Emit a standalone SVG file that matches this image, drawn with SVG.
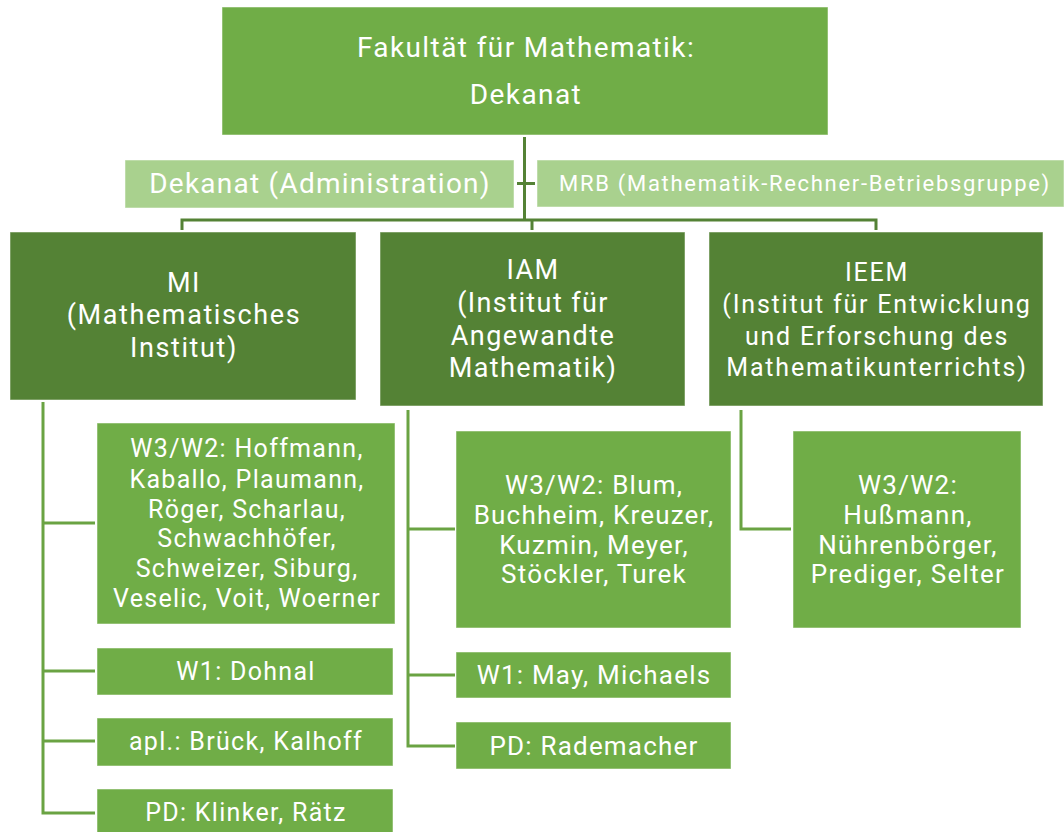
<svg xmlns="http://www.w3.org/2000/svg" width="1064" height="832" viewBox="0 0 1064 832">
<style>
.top{fill:#70ad47;stroke:#ffffff;stroke-opacity:0.5;stroke-width:1}
.mid{fill:#548235;stroke:#ffffff;stroke-opacity:0.5;stroke-width:1}
.lite{fill:#a9d18e;stroke:#ffffff;stroke-opacity:0.5;stroke-width:1}
.leaf{fill:#70ad47;stroke:#ffffff;stroke-opacity:0.5;stroke-width:1}
text{font-family:Roboto,"Liberation Sans",sans-serif;fill:#ffffff;text-anchor:middle}
.tTop{font-size:28px;letter-spacing:1.4px}
.tAdm{font-size:28px;letter-spacing:1.25px}
.tMrb{font-size:22px;letter-spacing:1.7px}
.tMI{font-size:27px;letter-spacing:1.6px}
.tIAM{font-size:27px;letter-spacing:1.4px}
.tIEEM{font-size:25px;letter-spacing:1.8px}
.tL1{font-size:25px;letter-spacing:1.3px}
.tL2{font-size:26px;letter-spacing:1.2px}
.tL3{font-size:26px;letter-spacing:1.3px}
.c1{fill:none;stroke:#548235;stroke-width:3}
.c2{fill:none;stroke:#6aa343;stroke-width:3}
</style>
<g id="connectors">
<path class="c1" d="M524.5 137 V220 M182 230 V220 H876 V230 M532 220 V230 M517 183.5 H535"/>
<path class="c2" d="M43 402 V813 H95 M43 523 H95 M43 671 H95 M43 741 H95"/>
<path class="c2" d="M408 410 V746 H455 M408 529 H455 M408 675 H455"/>
<path class="c2" d="M741 410 V529 H791"/>
</g>
<g id="fakultaet">
<rect class="top" x="222" y="7" width="606" height="128"/>
<text class="tTop" x="526" y="57">Fakultät für Mathematik:</text>
<text class="tTop" x="526" y="104">Dekanat</text>
</g>
<g id="dekanat-admin">
<rect class="lite" x="125" y="160" width="389" height="48"/>
<text class="tAdm" x="320" y="193">Dekanat (Administration)</text>
</g>
<g id="mrb">
<rect class="lite" x="537" y="160" width="527" height="47"/>
<text class="tMrb" x="805" y="191">MRB (Mathematik-Rechner-Betriebsgruppe)</text>
</g>
<g id="mi">
<rect class="mid" x="10" y="232" width="346" height="168"/>
<text class="tMI" x="184" y="292">MI</text>
<text class="tMI" x="184" y="324">(Mathematisches</text>
<text class="tMI" x="184" y="357">Institut)</text>
</g>
<g id="iam">
<rect class="mid" x="380" y="232" width="305" height="174"/>
<text class="tIAM" x="533" y="279">IAM</text>
<text class="tIAM" x="533" y="312">(Institut für</text>
<text class="tIAM" x="533" y="345">Angewandte</text>
<text class="tIAM" x="533" y="377">Mathematik)</text>
</g>
<g id="ieem">
<rect class="mid" x="709" y="232" width="334" height="174"/>
<text class="tIEEM" x="877" y="281">IEEM</text>
<text class="tIEEM" x="877" y="313">(Institut für Entwicklung</text>
<text class="tIEEM" x="877" y="345">und Erforschung des</text>
<text class="tIEEM" x="877" y="376">Mathematikunterrichts)</text>
</g>
<g id="mi-w3w2">
<rect class="leaf" x="97" y="423" width="298" height="201"/>
<text class="tL1" x="247" y="457">W3/W2: Hoffmann,</text>
<text class="tL1" x="247" y="488">Kaballo, Plaumann,</text>
<text class="tL1" x="247" y="518">Röger, Scharlau,</text>
<text class="tL1" x="247" y="547">Schwachhöfer,</text>
<text class="tL1" x="247" y="577">Schweizer, Siburg,</text>
<text class="tL1" x="247" y="607">Veselic, Voit, Woerner</text>
</g>
<g id="mi-w1">
<rect class="leaf" x="97" y="648" width="296" height="47"/>
<text class="tL1" x="246" y="680">W1: Dohnal</text>
</g>
<g id="mi-apl">
<rect class="leaf" x="97" y="718" width="296" height="48"/>
<text class="tL1" x="246" y="750">apl.: Brück, Kalhoff</text>
</g>
<g id="mi-pd">
<rect class="leaf" x="97" y="789" width="296" height="50"/>
<text class="tL1" x="246" y="821">PD: Klinker, Rätz</text>
</g>
<g id="iam-w3w2">
<rect class="leaf" x="456" y="431" width="275" height="197"/>
<text class="tL2" x="594" y="494">W3/W2: Blum,</text>
<text class="tL2" x="594" y="524">Buchheim, Kreuzer,</text>
<text class="tL2" x="594" y="554">Kuzmin, Meyer,</text>
<text class="tL2" x="594" y="583">Stöckler, Turek</text>
</g>
<g id="iam-w1">
<rect class="leaf" x="456" y="652" width="275" height="46"/>
<text class="tL2" x="594" y="684">W1: May, Michaels</text>
</g>
<g id="iam-pd">
<rect class="leaf" x="456" y="722" width="275" height="47"/>
<text class="tL2" x="594" y="755">PD: Rademacher</text>
</g>
<g id="ieem-w3w2">
<rect class="leaf" x="793" y="431" width="228" height="197"/>
<text class="tL3" x="908" y="494">W3/W2:</text>
<text class="tL3" x="908" y="524">Hußmann,</text>
<text class="tL3" x="908" y="554">Nührenbörger,</text>
<text class="tL3" x="908" y="583">Prediger, Selter</text>
</g>
</svg>
